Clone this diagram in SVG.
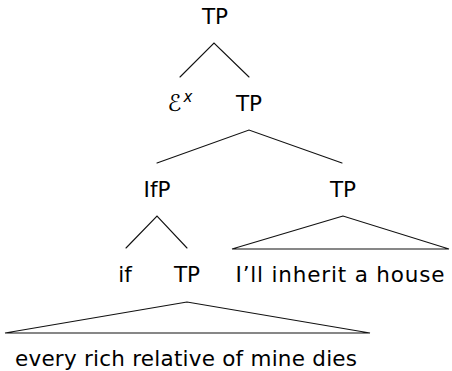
<svg xmlns="http://www.w3.org/2000/svg" width="452" height="371" viewBox="0 0 452 371">
  <style>
    text { font-family: "DejaVu Sans", "Liberation Sans", sans-serif; font-size: 21.5px; fill: #000; text-anchor: middle; }
    .edge { stroke: #111; stroke-width: 1.1; fill: none; stroke-linecap: round; stroke-linejoin: miter; }
  </style>
  <rect width="452" height="371" fill="#fff"/>

  <!-- branches and roof triangles -->
  <g id="connectors">
    <path class="edge" d="M180,77 L214,43 L249,77"/>
    <path class="edge" d="M157,163 L249,130 L342,163"/>
    <path class="edge" d="M126,248 L157,216 L187,248"/>
    <path class="edge" d="M343,216 L232,249 L449,249 Z"/>
    <path class="edge" d="M187,302 L5,333 L370,333 Z"/>
  </g>

  <g id="tp-root"><text x="215" y="24">TP</text></g>
  <g id="e-x"><text x="180" y="111"><tspan font-size="23" font-style="italic">ℰ</tspan><tspan font-size="15" font-style="italic" dx="2" dy="-9">x</tspan></text></g>
  <g id="tp-2"><text x="249" y="111">TP</text></g>
  <g id="ifp"><text x="157" y="197">IfP</text></g>
  <g id="tp-3"><text x="343" y="197">TP</text></g>
  <g id="if"><text x="125" y="282">if</text></g>
  <g id="tp-4"><text x="187" y="282">TP</text></g>
  <g id="tp-3-yield"><text x="340" y="282" textLength="209" lengthAdjust="spacing">I’ll inherit a house</text></g>
  <g id="tp-4-yield"><text x="186" y="366" textLength="342" lengthAdjust="spacing">every rich relative of mine dies</text></g>
</svg>
